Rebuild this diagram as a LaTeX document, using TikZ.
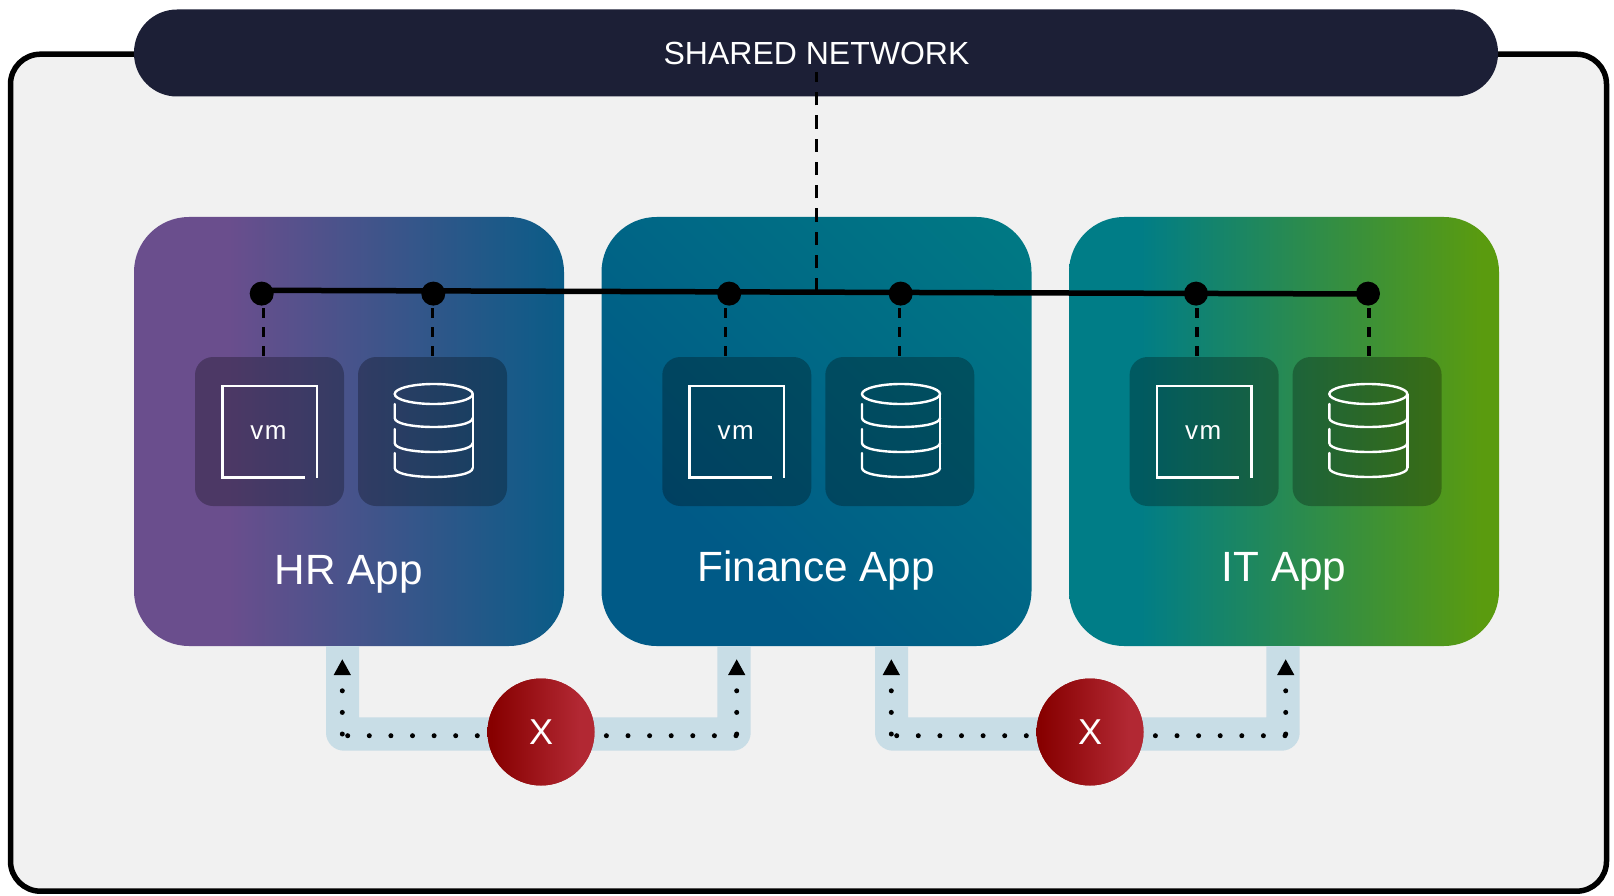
\documentclass[tikz,border=0pt]{standalone}
\usepackage{fontspec}
\setmainfont{Liberation Sans}
\usetikzlibrary{arrows.meta,calc}
\definecolor{framebg}{RGB}{241,241,241}
\definecolor{netcol}{RGB}{28,31,54}
\definecolor{pipecol}{RGB}{200,221,230}
\definecolor{purp}{RGB}{106,78,141}
\definecolor{deepblue}{RGB}{10,92,135}
\definecolor{finblue}{RGB}{0,90,135}
\definecolor{finteal}{RGB}{0,122,132}
\definecolor{tealc}{RGB}{0,125,135}
\definecolor{greenc}{RGB}{90,155,15}
\definecolor{redl}{RGB}{135,0,0}
\definecolor{redr}{RGB}{178,40,51}
\pgfdeclarehorizontalshading{hrgrad}{100bp}{color(0bp)=(purp);color(36bp)=(purp);color(75bp)=(deepblue);color(100bp)=(deepblue)}
\pgfdeclarehorizontalshading{itgrad}{100bp}{color(0bp)=(tealc);color(33bp)=(tealc);color(73bp)=(greenc);color(100bp)=(greenc)}
\pgfdeclarehorizontalshading{fingrad}{100bp}{color(0bp)=(finblue);color(32bp)=(finblue);color(85bp)=(finteal);color(100bp)=(finteal)}
\pgfdeclarehorizontalshading{redgrad}{100bp}{color(0bp)=(redl);color(27bp)=(redl);color(68bp)=(redr);color(100bp)=(redr)}
\tikzset{
  appbox/.style={rectangle,rounded corners=55pt,minimum width=430pt,minimum height=429pt,inner sep=0pt,draw=none},
  innerbox/.style={rectangle,rounded corners=18pt,minimum width=149pt,minimum height=149pt,inner sep=0pt,fill=black,fill opacity=.28},
  applabel/.style={text=white,font=\fontsize{42.3}{50}\selectfont,inner sep=0pt,anchor=base},
  port/.style={circle,fill=black,minimum size=24pt,inner sep=0pt},
  dashlink/.style={draw=black,line width=3.5pt,dash pattern=on 10pt off 9pt},
  maindash/.style={draw=black,line width=3.7pt,dash pattern=on 13.3pt off 10pt},
  dotlink/.style={draw=black,line width=5pt,line cap=round,dash pattern=on 0pt off 21.6pt},
  blocked/.style={circle,shading=redgrad,minimum size=107pt,inner sep=0pt,text=white,font=\fontsize{36}{43}\selectfont},
  iconline/.style={draw=white,line width=2.4pt},
  vmicon/.pic={
    \draw[iconline] (35,46) -- (-47.2,46) -- (-47.2,-45.5) -- (47.2,-45.5) -- (47.2,46.8);
    \node[text=white,inner sep=0pt,font=\fontsize{26}{30}\selectfont,anchor=base] at (-1,7.5) {v\kern1.5pt m};
  },
  dbicon/.pic={
    \draw[iconline] (1.2,-37.5) ellipse [x radius=39,y radius=10];
    \draw[iconline] (40.2,-37.5) -- (40.2,36.5);
    \foreach \t/\b in {-27.5/-13.5,-2.5/11.5,21.5/36.5}{
      \draw[iconline,line cap=round] (-37.8,\t) -- (-37.8,\b)
        .. controls (-37.8,\b+6) and (-18,\b+9) .. (1.2,\b+9)
        .. controls (21,\b+9) and (40.2,\b+6) .. (40.2,\b);
    }
  }
}
\begin{document}
\begin{tikzpicture}[x=1pt,y=-1pt]
\useasboundingbox (0,0) rectangle (1614,896);
% frame and shared network
\node[rectangle,draw=black,line width=5.5pt,fill=framebg,rounded corners=30pt,minimum width=1596pt,minimum height=837pt,inner sep=0pt] (frame) at (808.5,472.7) {};
\node[rectangle,fill=netcol,rounded corners=43pt,minimum width=1364pt,minimum height=87pt,inner sep=0pt] (net) at (816,53) {};
\node[text=white,font=\fontsize{32}{38}\selectfont,inner sep=0pt,anchor=base] (netlabel) at (816.5,64.3) {SHARED NETWORK};
% applications
\node[appbox,shading=hrgrad] (hr) at (349,431.5) {};
\node[appbox,shading=fingrad,shading angle=45] (fin) at (816.5,431.5) {};
\node[appbox,shading=itgrad] (it) at (1284,431.5) {};
\node[applabel] (hrlabel) at (349,584) {HR App};
\node[applabel] (finlabel) at (816,581) {Finance App};
\node[applabel] (itlabel) at (1284,581) {IT App};
% inner tiles
\foreach \n/\x in {hr/0,fin/467.3,it/934.6}{
  \node[innerbox] (\n vm) at ($(269.5,431.5)+(\x,0)$) {};
  \node[innerbox] (\n db) at ($(432.5,431.5)+(\x,0)$) {};
  \pic at (\n vm.center) {vmicon};
  \pic at (\n db.center) {dbicon};
}
% bus
\coordinate (busL) at (261.7,290.3);
\coordinate (busR) at (1368,294);
\coordinate (busM) at (816.5,291.7);
\draw[maindash] (busM) -- (816.5,72);
\draw[black,line width=5.5pt] (busL) -- (busR);
\node[port] (p1) at (261.7,293.6) {};
\node[port] (p2) at (433.3,293.6) {};
\node[port] (p3) at (729.2,293.6) {};
\node[port] (p4) at (900.7,293.6) {};
\node[port] (p5) at (1196,293.6) {};
\node[port] (p6) at (1368,293.6) {};
\foreach \nd/\xx in {hrvm/263.3,hrdb/432.3,finvm/725.7,findb/899.7,itvm/1197,itdb/1369}{
  \draw[dashlink] (\xx,308) -- (\xx,357);
}
% blocked paths
\foreach \dx/\n in {0/a,549/b}{
  \begin{scope}[xshift=\dx pt]
  \fill[pipecol] (326,646) -- (359,646) -- (359,717.3) -- (717.3,717.3) -- (717.3,646) -- (750.7,646)
     [rounded corners=18pt] -- (750.7,750.7) -- (326,750.7) [sharp corners] -- (326,646) -- cycle;
  \coordinate (\n L) at (342.3,734);
  \coordinate (\n Lh) at (347.7,735.7);
  \coordinate (\n R) at (736.7,734);
  \coordinate (\n Rh) at (736,735.7);
  \coordinate (\n Lt) at (342.3,659);
  \coordinate (\n Rt) at (736.7,659);
  \node[blocked] (\n X) at (541,732) {};
  \draw[dotlink] (\n Lh) -- (\n X.center |- \n Lh);
  \draw[dotlink] (\n Rh) -- (\n X.center |- \n Rh);
  \draw[dotlink,-{Triangle[length=16pt,width=16pt]}] (\n L) -- (\n Lt);
  \draw[dotlink,-{Triangle[length=16pt,width=16pt]}] (\n R) -- (\n Rt);
  \node[blocked] (\n X2) at (\n X.center) {X};
  \end{scope}
}
\end{tikzpicture}
\end{document}
